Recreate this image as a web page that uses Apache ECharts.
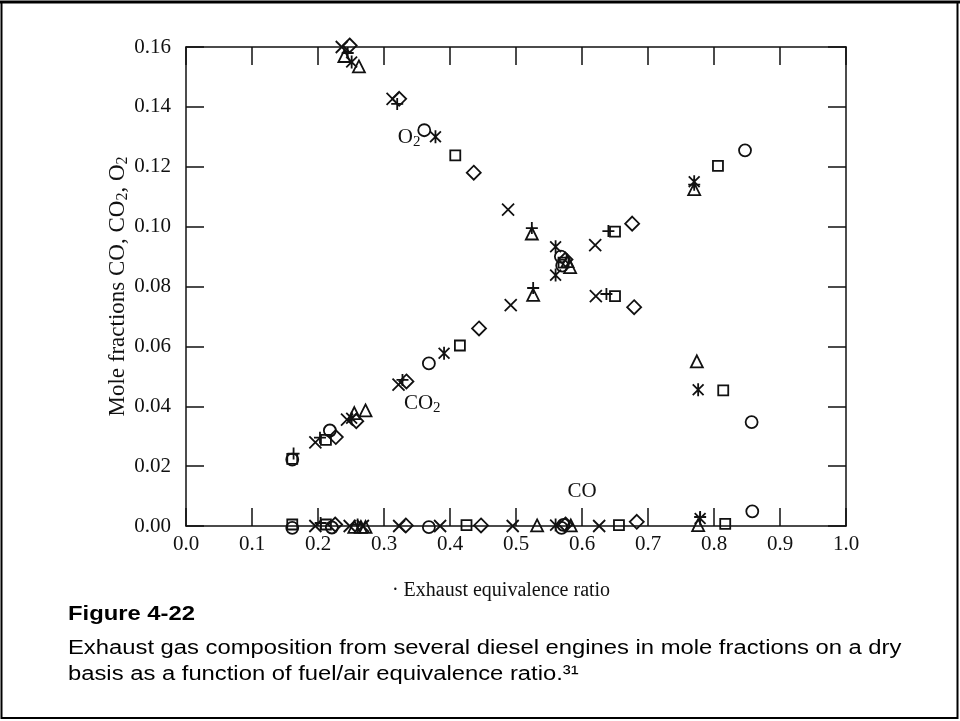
<!DOCTYPE html>
<html>
<head>
<meta charset="utf-8">
<script src="https://cdn.jsdelivr.net/npm/echarts@6/dist/echarts.min.js"></script>
<style>
  html, body { margin: 0; padding: 0; background: #fff; }
  #main { width: 960px; height: 721px; }
</style>
</head>
<body>
<div id="main"></div>
<script>
// values: [equivalence ratio, mole fraction]
var circlePts = [
  [0.361, 0.1322], [0.568, 0.0900], [0.857, 0.0347],
  [0.161, 0.0222], [0.218, 0.0319], [0.368, 0.0543], [0.570, 0.0870], [0.847, 0.1255],
  [0.161, -0.0006], [0.221, -0.0005], [0.368, -0.0004], [0.569, -0.0006], [0.572, 0.0004], [0.858, 0.0049]
];
var squarePts = [
  [0.408, 0.1238], [0.572, 0.0880], [0.650, 0.0768], [0.814, 0.0453],
  [0.161, 0.0224], [0.212, 0.0288], [0.415, 0.0603], [0.650, 0.0983], [0.806, 0.1203],
  [0.161, 0.0005], [0.212, 0.0005], [0.425, 0.0003], [0.656, 0.0003], [0.817, 0.0007]
];
var diamondPts = [
  [0.248, 0.1605], [0.323, 0.1427], [0.436, 0.1180], [0.575, 0.0890], [0.679, 0.0731],
  [0.227, 0.0297], [0.258, 0.0350], [0.334, 0.0483], [0.444, 0.0660], [0.676, 0.1010],
  [0.226, 0.0005], [0.333, 0.0002], [0.447, 0.0002], [0.575, 0.0005], [0.683, 0.0014]
];
var trianglePts = [
  [0.240, 0.1570], [0.262, 0.1535], [0.524, 0.0977], [0.582, 0.0865], [0.774, 0.0550],
  [0.255, 0.0377], [0.272, 0.0386], [0.526, 0.0772], [0.578, 0.0885], [0.770, 0.1125],
  [0.255, -0.0003], [0.265, -0.0003], [0.272, -0.0003], [0.532, 0.0002], [0.583, 0.0002], [0.776, 0.0003]
];
var crossPts = [
  [0.236, 0.1600], [0.313, 0.1427], [0.488, 0.1057], [0.621, 0.0768],
  [0.196, 0.0279], [0.244, 0.0355], [0.322, 0.0472], [0.492, 0.0738], [0.620, 0.0938],
  [0.196, 0.0000], [0.248, 0.0000], [0.268, 0.0000], [0.323, 0.0000], [0.385, 0.0000], [0.495, 0.0000], [0.626, 0.0000]
];
var asteriskPts = [
  [0.251, 0.1550], [0.378, 0.1300], [0.560, 0.0933], [0.776, 0.0455],
  [0.251, 0.0360], [0.391, 0.0577], [0.560, 0.0838], [0.770, 0.1150],
  [0.560, 0.0003], [0.779, 0.0025]
];
var plusPts = [
  [0.245, 0.1580], [0.320, 0.1410], [0.524, 0.0995], [0.637, 0.0775],
  [0.163, 0.0242], [0.203, 0.0295], [0.328, 0.0488], [0.526, 0.0795], [0.640, 0.0985], [0.770, 0.1140],
  [0.204, 0.0010], [0.260, 0.0005], [0.779, 0.0030]
];
// curve labels: [x, y, rich text]
var curveLabels = [[0.338, 0.1298, '{n|O}{s|2}'], [0.358, 0.0408, '{n|CO}{s|2}'], [0.600, 0.0115, '{n|CO}']];
var xTicks = { min: 0, max: 1, step: 0.1 };
var yTicks = { min: 0, max: 0.16, step: 0.02 };

var ink = '#111';
var serif = '"Liberation Serif", "DejaVu Serif", serif';
var sans = '"Liberation Sans", Arial, sans-serif';

var subRich = {
  n: { fontFamily: serif, fontSize: 21, lineHeight: 22, fill: ink },
  s: { fontFamily: serif, fontSize: 15, lineHeight: 15, padding: [9, 0, 0, 0], fill: ink }
};

function markSeries(name, pts, symbol, size) {
  return {
    name: name, type: 'scatter', data: pts, symbol: symbol, symbolSize: size,
    symbolKeepAspect: true, clip: false, silent: true,
    itemStyle: { color: 'rgba(0,0,0,0)', borderColor: ink, borderWidth: 1.8, opacity: 1 }
  };
}

function xAxisCfg(pos, labels) {
  return {
    type: 'value', position: pos, min: xTicks.min, max: xTicks.max, interval: xTicks.step,
    axisLine: { show: true, onZero: false, lineStyle: { color: ink, width: 1.5 } },
    axisTick: { show: true, inside: true, length: 18, lineStyle: { color: ink, width: 1.5 } },
    axisLabel: { show: labels, margin: 8, color: ink, fontFamily: serif, fontSize: 21,
      formatter: function (v) { return v.toFixed(1); } },
    splitLine: { show: false }
  };
}
function yAxisCfg(pos, labels) {
  return {
    type: 'value', position: pos, min: yTicks.min, max: yTicks.max, interval: yTicks.step,
    axisLine: { show: true, onZero: false, lineStyle: { color: ink, width: 1.5 } },
    axisTick: { show: true, inside: true, length: 18, lineStyle: { color: ink, width: 1.5 } },
    axisLabel: { show: labels, margin: 15, color: ink, fontFamily: serif, fontSize: 21,
      formatter: function (v) { return v.toFixed(2); } },
    splitLine: { show: false }
  };
}

var chart = echarts.init(document.getElementById('main'));
var yMain = yAxisCfg('left', true);
yMain.name = '{n|Mole fractions CO, CO}{s|2}{n|, O}{s|2}';
yMain.nameLocation = 'middle';
yMain.nameRotate = 90;
yMain.nameGap = 56;
yMain.nameMoveOverlap = false;
yMain.nameTextStyle = { color: ink, fontFamily: serif, fontSize: 23, rich: {
  n: { fontFamily: serif, fontSize: 23, lineHeight: 24, color: ink },
  s: { fontFamily: serif, fontSize: 16, lineHeight: 16, padding: [10, 0, 0, 0], color: ink }
} };

var frame = [
  { type: 'rect', shape: { x: 1.5, y: 2, width: 956, height: 716 },
    style: { fill: 'none', stroke: '#000', lineWidth: 2 } },
  { type: 'line', shape: { x1: 0, y1: 2, x2: 960, y2: 2 },
    style: { stroke: '#000', lineWidth: 3 } },
  { type: 'text', x: 501, y: 591, style: { text: '· Exhaust equivalence ratio', fill: ink,
    font: '20px ' + serif, textAlign: 'center', textVerticalAlign: 'middle' } },
  { type: 'text', x: 68, y: 614, scaleX: 1.19, style: { text: 'Figure 4-22', fill: '#000',
    font: 'bold 20px ' + sans, textVerticalAlign: 'middle' } },
  { type: 'text', x: 68, y: 648, scaleX: 1.19, style: { text: 'Exhaust gas composition from several diesel engines in mole fractions on a dry',
    fill: '#000', font: '20px ' + sans, textVerticalAlign: 'middle' } },
  { type: 'text', x: 68, y: 674, scaleX: 1.19, style: { text: 'basis as a function of fuel/air equivalence ratio.³¹',
    fill: '#000', font: '20px ' + sans, textVerticalAlign: 'middle' } }
];

chart.setOption({
  animation: false,
  backgroundColor: '#fff',
  grid: { left: 186, right: 114, top: 47, bottom: 195 },
  xAxis: [xAxisCfg('bottom', true), xAxisCfg('top', false)],
  yAxis: [yMain, yAxisCfg('right', false)],
  series: [
    markSeries('circle', circlePts, 'circle', 12),
    markSeries('square', squarePts, 'rect', 10),
    markSeries('diamond', diamondPts, 'diamond', 14),
    markSeries('triangle', trianglePts, 'triangle', 12),
    markSeries('cross', crossPts, 'path://M0,0L10,10M10,0L0,10', 12),
    markSeries('asterisk', asteriskPts, 'path://M0,1L10,11M10,1L0,11M5,0L5,12', 13),
    markSeries('plus', plusPts, 'path://M5,0L5,10M0,5L10,5', 12)
  ],
  graphic: frame
});

// curve names placed through the chart's own scales
var tags = curveLabels.map(function (d) {
  var p = chart.convertToPixel({ xAxisIndex: 0, yAxisIndex: 0 }, [d[0], d[1]]);
  return { type: 'text', x: p[0], y: p[1], silent: true,
    style: { text: d[2], rich: subRich, fill: ink, align: 'center', verticalAlign: 'middle' } };
});
chart.setOption({ graphic: frame.concat(tags) });
</script>
</body>
</html>
